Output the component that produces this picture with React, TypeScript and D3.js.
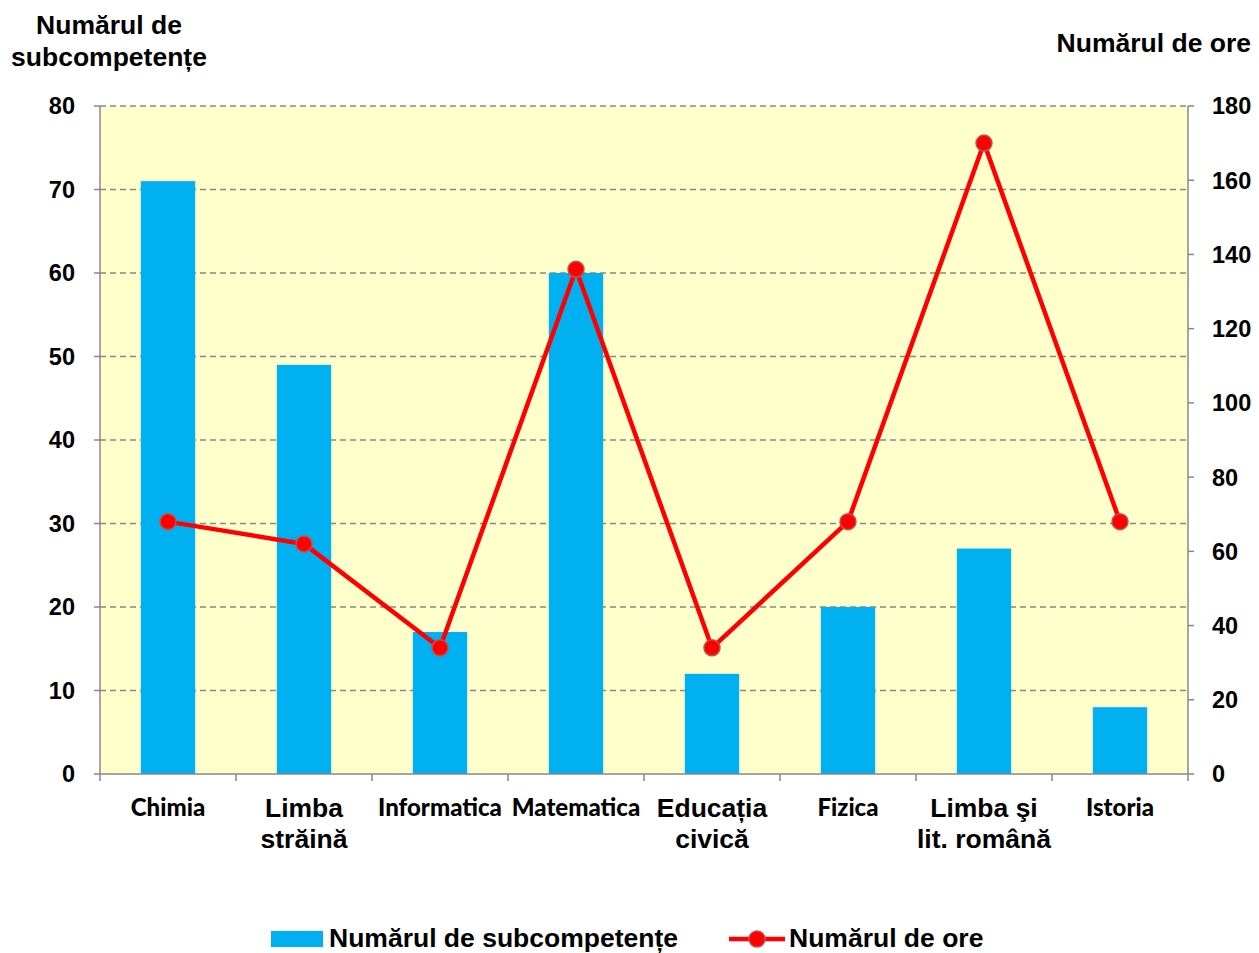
import React from "react";
import * as d3 from "d3";

const categories: string[][] = [
  ["Chimia"],
  ["Limba", "străină"],
  ["Informatica"],
  ["Matematica"],
  ["Educația", "civică"],
  ["Fizica"],
  ["Limba şi", "lit. română"],
  ["Istoria"],
];
const calibriLike = [true, false, true, true, false, true, false, true];
const subcompetente = [71, 49, 17, 60, 12, 20, 27, 8];
const ore = [68, 62, 34, 136, 34, 68, 170, 68];
const leftTicks = [0, 10, 20, 30, 40, 50, 60, 70, 80];
const rightTicks = [0, 20, 40, 60, 80, 100, 120, 140, 160, 180];

const W = 1259, H = 953;
const L = 100, R = 1188, T = 106, B = 774;

export default function App() {
  const idx = categories.map((_, i) => i);
  const x = d3.scaleBand<number>().domain(idx).range([L, R]).paddingInner(0.6).paddingOuter(0.3);
  const xb = d3.scaleBand<number>().domain(idx).range([L, R]);
  const yL = d3.scaleLinear().domain([0, 80]).range([B, T]);
  const yR = d3.scaleLinear().domain([0, 180]).range([B, T]);
  const line = d3.line<number>().x((_, i) => xb(i)! + xb.bandwidth() / 2).y((d) => yR(d));
  const arial = "'Liberation Sans', Arial, sans-serif";
  const cal = "Lato, 'Open Sans', sans-serif";
  const big = 26.5;
  return (
    <svg width={W} height={H} style={{ position: "absolute", left: 0, top: 0 }}>
      <rect x={0} y={0} width={W} height={H} fill="#fff" />
      <rect x={L} y={T} width={R - L} height={B - T} fill="#FFFFCC" />
      {leftTicks.filter((t) => t > 0).map((t) => (
        <line key={t} x1={L} x2={R} y1={yL(t)} y2={yL(t)} stroke="#888" strokeWidth={1.5} strokeDasharray="6,4" />
      ))}
      {subcompetente.map((v, i) => (
        <rect key={i} x={x(i)} y={yL(v)} width={x.bandwidth()} height={B - yL(v)} fill="#00B0F0" />
      ))}
      <line x1={L} x2={L} y1={T} y2={B} stroke="#888" strokeWidth={1.5} />
      <line x1={R} x2={R} y1={T} y2={B} stroke="#888" strokeWidth={1.5} />
      <line x1={L} x2={R} y1={B} y2={B} stroke="#888" strokeWidth={1.5} />
      {leftTicks.map((t) => (
        <g key={t}>
          <line x1={L - 6} x2={L} y1={yL(t)} y2={yL(t)} stroke="#888" strokeWidth={1.5} />
          <text x={75} y={yL(t)} dy="0.36em" textAnchor="end" fontFamily={arial} fontWeight="bold" fontSize={23.5}>{t}</text>
        </g>
      ))}
      {rightTicks.map((t) => (
        <g key={t}>
          <line x1={R} x2={R + 6} y1={yR(t)} y2={yR(t)} stroke="#888" strokeWidth={1.5} />
          <text x={1212} y={yR(t)} dy="0.36em" textAnchor="start" fontFamily={arial} fontWeight="bold" fontSize={23.5}>{t}</text>
        </g>
      ))}
      {d3.range(categories.length + 1).map((i) => {
        const px = L + i * xb.bandwidth();
        return <line key={i} x1={px} x2={px} y1={B} y2={B + 7} stroke="#888" strokeWidth={1.5} />;
      })}
      {categories.map((lines, i) => {
        const cx = xb(i)! + xb.bandwidth() / 2;
        const c = calibriLike[i];
        return (
          <text key={i} x={cx} textAnchor="middle" fontFamily={c ? cal : arial} fontWeight={c ? 900 : "bold"} fontSize={c ? 24 : big}>
            {lines.map((l, j) => (
              <tspan key={j} x={cx} y={(c ? 816 : 817) + j * 31}>{l}</tspan>
            ))}
          </text>
        );
      })}
      <path d={line(ore)!} fill="none" stroke="#FF0000" strokeWidth={4.5} strokeLinejoin="round" />
      {ore.map((v, i) => (
        <circle key={i} cx={xb(i)! + xb.bandwidth() / 2} cy={yR(v)} r={8} fill="#FF0000" stroke="#C0504D" strokeWidth={1.5} />
      ))}
      <text x={109} textAnchor="middle" fontFamily={arial} fontWeight="bold" fontSize={big}>
        <tspan x={109} y={34}>Numărul de</tspan>
        <tspan x={109} y={66}>subcompetențe</tspan>
      </text>
      <text x={1251} y={52} textAnchor="end" fontFamily={arial} fontWeight="bold" fontSize={big}>Numărul de ore</text>
      <rect x={271} y={931} width={52} height={16} fill="#00B0F0" />
      <text x={329} y={947} fontFamily={arial} fontWeight="bold" fontSize={big}>Numărul de subcompetențe</text>
      <line x1={729} x2={785} y1={939} y2={939} stroke="#FF0000" strokeWidth={4.5} />
      <circle cx={757} cy={939} r={8} fill="#FF0000" stroke="#C0504D" strokeWidth={1.5} />
      <text x={789} y={947} fontFamily={arial} fontWeight="bold" fontSize={big}>Numărul de ore</text>
    </svg>
  );
}
